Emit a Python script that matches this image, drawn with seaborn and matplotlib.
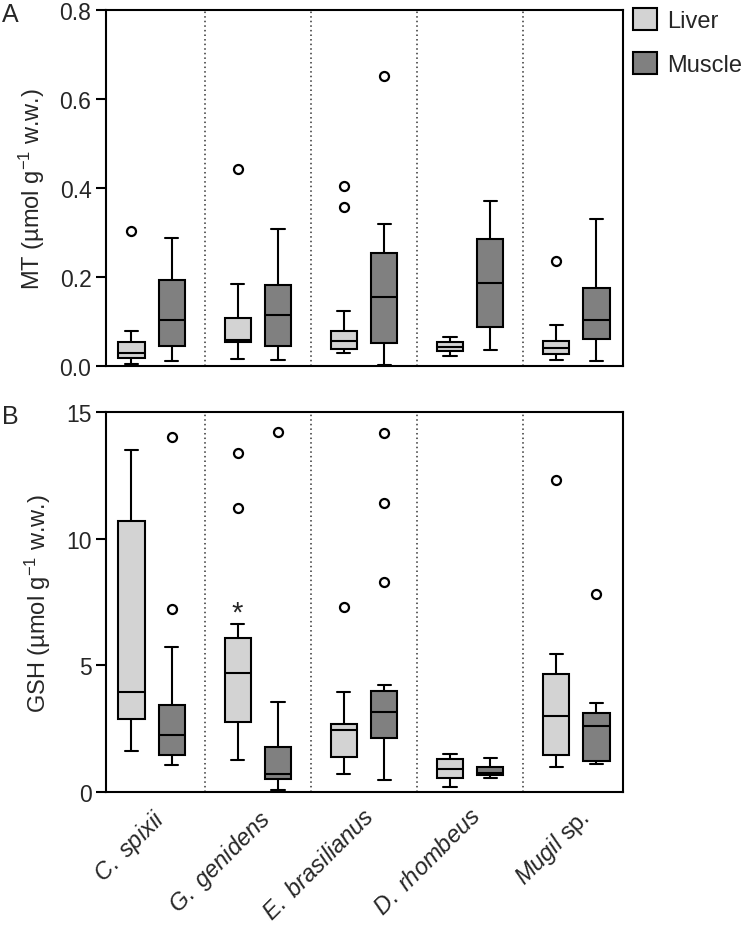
import pandas as pd
import matplotlib
matplotlib.use("Agg")
import matplotlib.pyplot as plt
import seaborn as sns
from matplotlib.patches import Patch

# Five-number summaries per species: [whisker low, Q1, median, Q3, whisker high]
species = ["C. spixii", "G. genidens", "E. brasilianus", "D. rhombeus", "Mugil sp."]
species_labels = [
    r"$\mathit{C.\ spixii}$",
    r"$\mathit{G.\ genidens}$",
    r"$\mathit{E.\ brasilianus}$",
    r"$\mathit{D.\ rhombeus}$",
    r"$\mathit{Mugil}$ sp.",
]
tissues = ["Liver", "Muscle"]

mt_liver = [
    [0.005, 0.018, 0.029, 0.055, 0.079],
    [0.016, 0.053, 0.059, 0.107, 0.185],
    [0.030, 0.039, 0.056, 0.079, 0.123],
    [0.023, 0.034, 0.043, 0.053, 0.065],
    [0.013, 0.028, 0.040, 0.056, 0.093],
]
mt_liver_out = [[0.303], [0.442], [0.405, 0.357], [], [0.237]]
mt_muscle = [
    [0.011, 0.046, 0.103, 0.194, 0.288],
    [0.013, 0.046, 0.115, 0.182, 0.308],
    [0.003, 0.051, 0.154, 0.254, 0.318],
    [0.035, 0.087, 0.186, 0.285, 0.371],
    [0.011, 0.061, 0.104, 0.175, 0.330],
]
mt_muscle_out = [[], [], [0.652], [], []]

gsh_liver = [
    [1.60, 2.89, 3.93, 10.68, 13.49],
    [1.28, 2.76, 4.71, 6.06, 6.62],
    [0.71, 1.38, 2.46, 2.70, 3.95],
    [0.20, 0.54, 0.89, 1.30, 1.51],
    [0.99, 1.45, 3.01, 4.64, 5.45],
]
gsh_liver_out = [[], [11.22, 13.39], [7.32], [], [12.33]]
gsh_muscle = [
    [1.08, 1.47, 2.26, 3.42, 5.72],
    [0.07, 0.53, 0.72, 1.78, 3.55],
    [0.46, 2.14, 3.17, 3.97, 4.24],
    [0.54, 0.68, 0.75, 1.00, 1.35],
    [1.09, 1.21, 2.59, 3.13, 3.51],
]
gsh_muscle_out = [[7.24, 14.01], [14.21], [8.27, 11.41, 14.18], [], [7.83]]

colors = {"Liver": "#d3d3d3", "Muscle": "#808080"}


def sample_from_summary(lo, q1, med, q3, hi, outliers):
    """Build a sample whose quartiles, whiskers and fliers match the summary."""
    low_out = sorted(o for o in outliers if o < lo)
    high_out = sorted(o for o in outliers if o > hi)
    m = max(len(low_out), len(high_out)) + 1
    vals = (
        low_out
        + [lo]
        + [q1] * (2 * m - 1 - len(low_out))
        + [med]
        + [q3] * (2 * m - 1 - len(high_out))
        + [hi]
        + high_out
    )
    return vals


def build_frame(liver, liver_out, muscle, muscle_out):
    rows = []
    for sp, s, o in zip(species, liver, liver_out):
        rows += [(sp, "Liver", v) for v in sample_from_summary(*s, o)]
    for sp, s, o in zip(species, muscle, muscle_out):
        rows += [(sp, "Muscle", v) for v in sample_from_summary(*s, o)]
    return pd.DataFrame(rows, columns=["species", "tissue", "value"])


sns.set_style("white")
plt.rcParams["font.family"] = ["Liberation Sans", "DejaVu Sans"]
plt.rcParams["mathtext.fontset"] = "custom"
plt.rcParams["mathtext.rm"] = "Liberation Sans"
plt.rcParams["mathtext.it"] = "Liberation Sans:italic"
plt.rcParams["mathtext.bf"] = "Liberation Sans:bold"

fig = plt.figure(figsize=(7.47, 9.29), dpi=100)
ax1 = fig.add_axes([106 / 747, 1 - 367 / 929, 517 / 747, 356 / 929])
ax2 = fig.add_axes([106 / 747, 1 - 793 / 929, 517 / 747, 380 / 929])

panels = [
    (ax1, build_frame(mt_liver, mt_liver_out, mt_muscle, mt_muscle_out),
     (0, 0.8), [0.0, 0.2, 0.4, 0.6, 0.8], r"MT (µmol g$^{-1}$ w.w.)"),
    (ax2, build_frame(gsh_liver, gsh_liver_out, gsh_muscle, gsh_muscle_out),
     (0, 15), [0, 5, 10, 15], r"GSH (µmol g$^{-1}$ w.w.)"),
]

for ax, df, ylim, yticks, ylabel in panels:
    sns.boxplot(
        data=df, x="species", y="value", hue="tissue",
        order=species, hue_order=tissues, palette=colors,
        saturation=1, width=0.76, gap=0.35, whis=1.5,
        linecolor="black", linewidth=1.5,
        flierprops=dict(marker="o", markersize=6.5, markerfacecolor="white",
                        markeredgecolor="black", markeredgewidth=1.6),
        legend=False, ax=ax,
    )
    for xs in [0.5, 1.5, 2.5, 3.5]:
        ax.axvline(xs, color="#333333", linestyle=(0, (1, 2)), linewidth=1.1, zorder=0)
    ax.set_xlim(-0.43, 4.44)
    ax.set_ylim(*ylim)
    ax.set_yticks(yticks)
    ax.set_ylabel(ylabel, fontsize=17, labelpad=9)
    ax.set_xlabel("")
    for sp in ax.spines.values():
        sp.set_linewidth(1.5)
        sp.set_color("black")
    ax.tick_params(axis="y", direction="out", length=7, width=1.5,
                   labelsize=16.5, left=True, color="black")
    ax.tick_params(axis="x", length=0)

ax1.set_xticklabels([])
ax2.set_xticks(range(len(species)))
ax2.set_xticklabels(species_labels, rotation=45, ha="right",
                    rotation_mode="anchor", fontsize=17)
ax2.tick_params(axis="x", pad=9)

# significance mark above G. genidens liver
ax2.text(1 - 0.19, 6.75, "*", ha="center", va="baseline", fontsize=21)

fig.text(0.003, 1 - 3 / 929, "A", fontsize=18, va="top", ha="left")
fig.text(0.003, 1 - 405 / 929, "B", fontsize=18, va="top", ha="left")

handles = [Patch(facecolor=colors[t], edgecolor="black", linewidth=1.5, label=t)
           for t in tissues]
fig.legend(handles=handles, loc="upper left", bbox_to_anchor=(633 / 747, 1 - 9 / 929),
           frameon=False, fontsize=17, handlelength=1.02, handleheight=1.06,
           handletextpad=0.42, labelspacing=0.85, borderaxespad=0, borderpad=0)

fig.savefig("out.png", dpi=100)
